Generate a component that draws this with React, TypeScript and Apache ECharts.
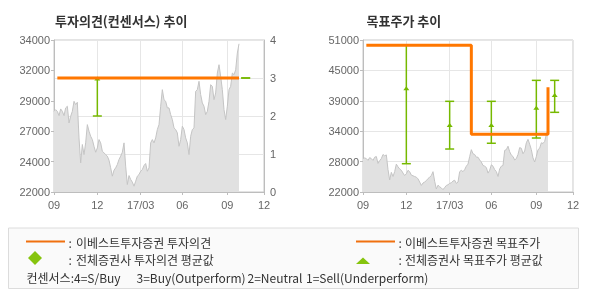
import React, { useEffect, useRef } from 'react';
import * as echarts from 'echarts';

// x axis: sample index (about two trading days per sample), Sep 2016 .. Dec 2017
const xTickValues = [0, 26, 52, 77, 104, 126];
const xTickLabels = ['09', '12', '17/03', '06', '09', '12'];

// closing price samples (KRW)
const closePrice = [
  28370, 28500, 28370, 28030, 28560, 28370, 28030, 28640, 28770, 27450,
  27980, 28370, 29160, 28900, 29080, 26270, 24300, 25750, 24960, 25880,
  27320, 26800, 26400, 26140, 25610, 25140, 25480, 26140, 25880, 25220,
  25090, 24960, 24830, 24510, 23910, 23250, 23720, 23910, 24170, 24570,
  24830, 25140, 25880, 24040, 22590, 23300, 22990, 22780, 22460, 22850,
  23250, 23380, 23640, 23770, 24090, 24250, 23640, 23900,
  25880, 26140, 25880, 26270, 26930, 27320, 28770, 30080, 29290, 29160,
  28640, 28640, 28110, 27720, 27060, 26930, 26670, 25610, 26140, 27190,
  26930, 26270, 25880, 24960, 26400, 26930, 27060, 29950, 30080, 30740,
  29690, 29030, 28770, 28110, 28370, 29160, 30470, 30340, 29290, 29820,
  31390, 32050, 31130, 30080, 28500, 27720, 28770, 30080, 30340, 31390,
  31260, 31650, 32970, 33700,
];

// 이베스트투자증권 opinion (3 = Buy) and target price steps
const opinionLine = [[2, 3], [111, 3]];
const targetPriceSteps = [[2, 50000], [65, 33000], [111, 42000]];

// consensus: [x, low, high, mean]
const consensusOpinion = [[26, 2, 3, 2.96], [115, 3, 3, NaN]];
const consensusTarget = [
  [26, 27400, 50000, 41600],
  [52, 30200, 39300, 34600],
  [77, 31300, 39300, 34600],
  [104, 32300, 43300, 37900],
  [115, 37200, 43300, 40300],
];

const priceTicksLeft = { min: 22000, max: 34000, interval: 2400 };
const priceTicksRight = { min: 22000, max: 51000, interval: 5800 };
const opinionTicks = { min: 0, max: 4, interval: 1 };

const AXIS = '#bdbdbd';
const GRIDC = '#e6e6e6';
const LABEL = '#666666';
const ORANGE = '#ff7700';
const GREEN = '#76b900';
const LEG_GREEN = '#86c40e';
const FONT = '"Liberation Sans", Arial, sans-serif';
const KFONT = '"Noto Sans CJK KR", sans-serif';

const errorBarRender = (params: any, api: any) => {
  const x = api.value(0);
  const lo = api.coord([x, api.value(1)]);
  const hi = api.coord([x, api.value(2)]);
  const meanV = api.value(3);
  const cap = 4.5;
  const style = { stroke: GREEN, lineWidth: 1.5, fill: 'none' };
  const children: any[] = [
    { type: 'line', shape: { x1: lo[0], y1: lo[1], x2: hi[0], y2: hi[1] }, style },
    { type: 'line', shape: { x1: lo[0] - cap, y1: lo[1], x2: lo[0] + cap, y2: lo[1] }, style },
    { type: 'line', shape: { x1: hi[0] - cap, y1: hi[1], x2: hi[0] + cap, y2: hi[1] }, style },
  ];
  if (!isNaN(meanV)) {
    const m = api.coord([x, meanV]);
    children.push({
      type: 'polygon',
      shape: { points: [[m[0] - 3, m[1] + 1], [m[0] + 3, m[1] + 1], [m[0], m[1] - 3]] },
      style: { fill: GREEN },
    });
  }
  return { type: 'group', children };
};

const xAxisFor = (gridIndex: number) => ({
  type: 'value',
  gridIndex,
  min: 0,
  max: 126,
  axisLine: { show: true, lineStyle: { color: AXIS } },
  axisTick: { show: true, length: 3, customValues: xTickValues, lineStyle: { color: AXIS } },
  axisLabel: {
    customValues: xTickValues,
    formatter: (v: number) => {
      const i = xTickValues.indexOf(v);
      return i >= 0 ? xTickLabels[i] : '';
    },
    color: LABEL,
    fontSize: 11,
    fontFamily: FONT,
    margin: 7,
  },
  splitLine: { show: true, lineStyle: { color: GRIDC } },
});

const roundK = (v: number) => String(Math.round(v / 1000) * 1000);

export default function App() {
  const ref = useRef<HTMLDivElement>(null);
  useEffect(() => {
    if (!ref.current) return;
    const chart = echarts.init(ref.current, null, { renderer: 'svg' });
    const priceData = closePrice.map((v, i) => [i, v]);
    const option: any = {
      animation: false,
      textStyle: { fontFamily: FONT },
      grid: [
        { left: 54, top: 40, width: 210, height: 152, show: true, borderColor: '#c8c8c8', borderWidth: 1 },
        { left: 363, top: 40, width: 210, height: 152, show: true, borderColor: '#c8c8c8', borderWidth: 1 },
      ],
      xAxis: [xAxisFor(0), xAxisFor(1)],
      yAxis: [
        {
          type: 'value', gridIndex: 0, position: 'left', ...priceTicksLeft,
          axisLine: { show: true, lineStyle: { color: AXIS } },
          axisTick: { show: true, length: 3, lineStyle: { color: AXIS } },
          axisLabel: { formatter: roundK, color: LABEL, fontSize: 11, fontFamily: FONT, margin: 4 },
          splitLine: { show: false },
        },
        {
          type: 'value', gridIndex: 0, position: 'right', ...opinionTicks,
          axisLine: { show: true, lineStyle: { color: AXIS } },
          axisTick: { show: false },
          axisLabel: { color: LABEL, fontSize: 11, fontFamily: FONT, margin: 6 },
          splitLine: { show: true, lineStyle: { color: GRIDC } },
        },
        {
          type: 'value', gridIndex: 1, position: 'left', ...priceTicksRight,
          axisLine: { show: true, lineStyle: { color: AXIS } },
          axisTick: { show: true, length: 3, lineStyle: { color: AXIS } },
          axisLabel: { formatter: roundK, color: LABEL, fontSize: 11, fontFamily: FONT, margin: 4 },
          splitLine: { show: true, lineStyle: { color: GRIDC } },
        },
      ],
      series: [
        {
          type: 'line', xAxisIndex: 0, yAxisIndex: 0, data: priceData, showSymbol: false, z: 1,
          lineStyle: { color: '#c4c4c4', width: 1 }, areaStyle: { color: '#e1e1e1', origin: 'start', opacity: 1 },
        },
        {
          type: 'line', xAxisIndex: 1, yAxisIndex: 2, data: priceData, showSymbol: false, z: 1,
          lineStyle: { color: '#c4c4c4', width: 1 }, areaStyle: { color: '#e1e1e1', origin: 'start', opacity: 1 },
        },
        {
          type: 'custom', xAxisIndex: 0, yAxisIndex: 1, data: consensusOpinion, z: 2,
          encode: { x: 0, y: [1, 2, 3] }, renderItem: errorBarRender,
        },
        {
          type: 'custom', xAxisIndex: 1, yAxisIndex: 2, data: consensusTarget, z: 2,
          encode: { x: 0, y: [1, 2, 3] }, renderItem: errorBarRender,
        },
        {
          type: 'line', xAxisIndex: 0, yAxisIndex: 1, data: opinionLine, showSymbol: false, z: 3,
          lineStyle: { color: ORANGE, width: 3 },
        },
        {
          type: 'line', xAxisIndex: 1, yAxisIndex: 2, data: targetPriceSteps, step: 'end', showSymbol: false, z: 3,
          lineStyle: { color: ORANGE, width: 3 },
        },
      ],
      graphic: [
        { type: 'text', x: 55, y: 20.5, style: { text: '투자의견(컨센서스) 추이', fontSize: 13, fontWeight: 'bold', fontFamily: KFONT, fill: '#333', verticalAlign: 'middle' } },
        { type: 'text', x: 366.5, y: 20.5, style: { text: '목표주가 추이', fontSize: 13, fontWeight: 'bold', fontFamily: KFONT, fill: '#333', verticalAlign: 'middle' } },
        { type: 'rect', shape: { x: 8.5, y: 228, width: 570, height: 60.5 }, style: { fill: '#fafafa', stroke: '#dcdcdc', lineWidth: 1 } },
        { type: 'line', shape: { x1: 26, y1: 241.5, x2: 65, y2: 241.5 }, style: { stroke: '#f0700f', lineWidth: 2 } },
        { type: 'text', x: 68.5, y: 242, style: { text: ':', fontSize: 12, fontFamily: KFONT, fill: '#333', verticalAlign: 'middle' } },
        { type: 'text', x: 76, y: 242, style: { text: '이베스트투자증권 투자의견', fontSize: 12, fontFamily: KFONT, fill: '#333', verticalAlign: 'middle' } },
        { type: 'polygon', shape: { points: [[35, 251], [42, 258], [35, 265], [28, 258]] }, style: { fill: LEG_GREEN } },
        { type: 'text', x: 68.5, y: 259, style: { text: ':', fontSize: 12, fontFamily: KFONT, fill: '#333', verticalAlign: 'middle' } },
        { type: 'text', x: 76, y: 259, style: { text: '전체증권사 투자의견 평균값', fontSize: 12, fontFamily: KFONT, fill: '#333', verticalAlign: 'middle' } },
        { type: 'line', shape: { x1: 356, y1: 241.5, x2: 395, y2: 241.5 }, style: { stroke: '#f0700f', lineWidth: 2 } },
        { type: 'text', x: 398.5, y: 242, style: { text: ':', fontSize: 12, fontFamily: KFONT, fill: '#333', verticalAlign: 'middle' } },
        { type: 'text', x: 405, y: 242, style: { text: '이베스트투자증권 목표주가', fontSize: 12, fontFamily: KFONT, fill: '#333', verticalAlign: 'middle' } },
        { type: 'polygon', shape: { points: [[363, 257.5], [370, 264], [356, 264]] }, style: { fill: LEG_GREEN } },
        { type: 'text', x: 398.5, y: 259, style: { text: ':', fontSize: 12, fontFamily: KFONT, fill: '#333', verticalAlign: 'middle' } },
        { type: 'text', x: 405, y: 259, style: { text: '전체증권사 목표주가 평균값', fontSize: 12, fontFamily: KFONT, fill: '#333', verticalAlign: 'middle' } },
        { type: 'text', x: 26.5, y: 277, style: { text: '컨센서스:4=S/Buy', fontSize: 12, fontFamily: KFONT, fill: '#333', verticalAlign: 'middle' } },
        { type: 'text', x: 136.5, y: 277, style: { text: '3=Buy(Outperform)', fontSize: 12, fontFamily: KFONT, fill: '#333', verticalAlign: 'middle' } },
        { type: 'text', x: 247.5, y: 277, style: { text: '2=Neutral', fontSize: 12, fontFamily: KFONT, fill: '#333', verticalAlign: 'middle' } },
        { type: 'text', x: 306, y: 277, style: { text: '1=Sell(Underperform)', fontSize: 12, fontFamily: KFONT, fill: '#333', verticalAlign: 'middle' } },
      ],
    };
    chart.setOption(option);
    return () => chart.dispose();
  }, []);
  return <div ref={ref} style={{ position: 'fixed', left: 0, top: 0, width: 590, height: 300 }} />;
}
